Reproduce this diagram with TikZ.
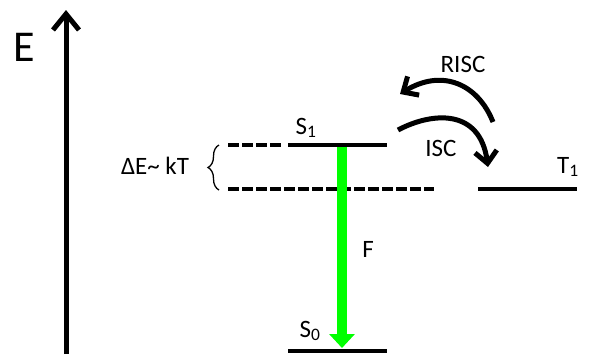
\documentclass[tikz,border=0pt]{standalone}
\usepackage{fontspec}
\setmainfont{Carlito}
\usetikzlibrary{arrows.meta,decorations.pathreplacing}
\definecolor{fgreen}{RGB}{0,255,0}
\begin{document}
\begin{tikzpicture}[x=1pt,y=-1pt,
  level/.style={line width=3.5pt},
  dlevel/.style={line width=3.5pt,dash pattern=on 10.5pt off 3.5pt},
  lbl/.style={inner sep=0pt,font=\fontsize{25}{30}\selectfont},
  curvarrow/.style={line width=5pt,-{Straight Barb[length=12pt,width=22pt]}}]
\useasboundingbox (0,0) rectangle (591,354);
% energy axis
\coordinate (ax0) at (66,354);
\coordinate (ax1) at (66,10);
\draw[line width=5pt,-{Straight Barb[length=16pt,width=26pt]}] (ax0) -- (ax1);
\node[lbl,font=\fontsize{44}{50}\selectfont] (E) at (24,47) {E};
% levels
\coordinate (s1a) at (288,145); \coordinate (s1b) at (387,145);
\coordinate (s0a) at (288,351); \coordinate (s0b) at (387,351);
\coordinate (t1a) at (478,189); \coordinate (t1b) at (577,189);
\coordinate (d1a) at (228,145); \coordinate (d1b) at (283,145);
\coordinate (d2a) at (228,189); \coordinate (d2b) at (434,189);
\draw[level] (s1a) -- (s1b);
\draw[level] (s0a) -- (s0b);
\draw[level] (t1a) -- (t1b);
\draw[dlevel] (d1a) -- (d1b);
\draw[dlevel] (d2a) -- (d2b);
% labels
\node[lbl] (S1) at (306,128) {S\textsubscript{1}};
\node[lbl] (S0) at (310,331) {S\textsubscript{0}};
\node[lbl] (T1) at (568,167) {T\textsubscript{1}};
\node[lbl] (F) at (368,249) {F};
\node[lbl] (dE) at (155,166) {ΔE\char`~\ kT};
\node[lbl] (RISC) at (463,64) {RISC};
\node[lbl] (ISC) at (441,148) {ISC};
% brace
\coordinate (b0) at (219,190); \coordinate (b1) at (219,145);
\draw[line width=1.3pt,decorate,decoration={brace,amplitude=11pt}] (b0) -- (b1);
% fluorescence
\coordinate (f0) at (342,147); \coordinate (f1) at (342,348);
\draw[fgreen,line width=10pt,-{Triangle[length=14pt,width=25pt]}] (f0) -- (f1);
% RISC and ISC arrows
\coordinate (r0) at (493,122); \coordinate (r1) at (400,94);
\draw[curvarrow] (r0) .. controls (478,84) and (442,68) .. (r1);
\coordinate (i0) at (398,130); \coordinate (i1) at (488,167);
\draw[curvarrow] (i0) .. controls (432,112) and (480,108) .. (i1);
\end{tikzpicture}
\end{document}
